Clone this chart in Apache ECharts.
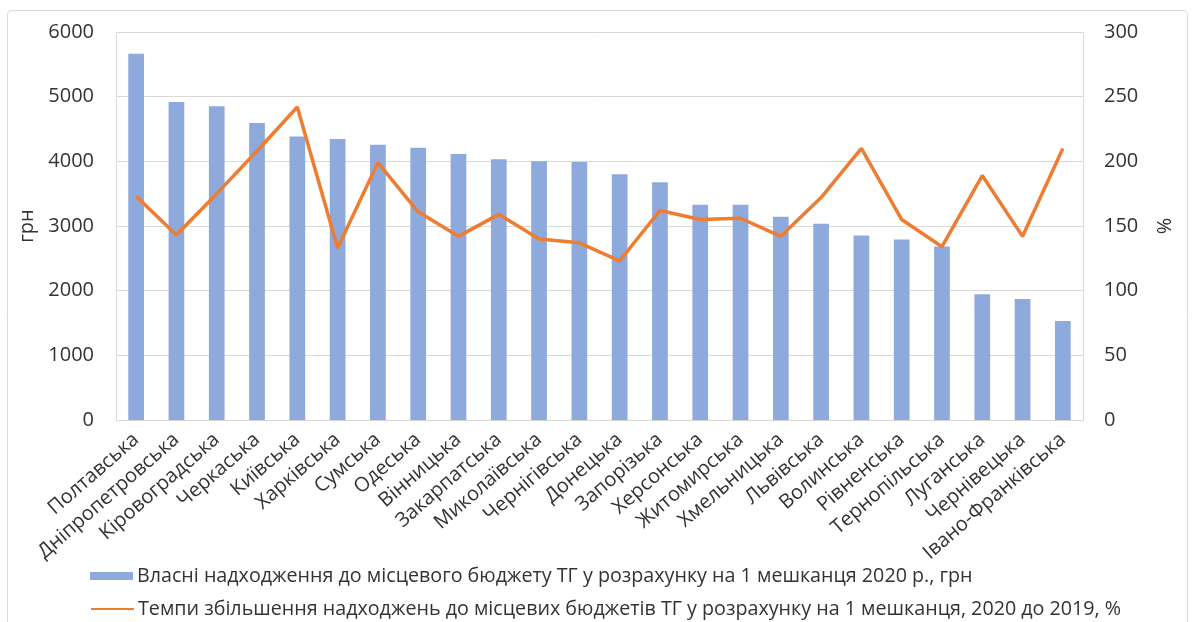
<!DOCTYPE html>
<html><head><meta charset="utf-8">
<script src="https://cdn.jsdelivr.net/npm/echarts@6/dist/echarts.min.js"></script>
<style>html,body{margin:0;padding:0;background:#fff}#c{width:1192px;height:622px}</style>
</head><body><div id="c"></div>
<script>
const categories = ["Полтавська","Дніпропетровська","Кіровоградська","Черкаська","Київська","Харківська","Сумська","Одеська","Вінницька","Закарпатська","Миколаївська","Чернігівська","Донецька","Запорізька","Херсонська","Житомирська","Хмельницька","Львівська","Волинська","Рівненська","Тернопільська","Луганська","Чернівецька","Івано-Франківська"];
const revenuePerCapita = [5665,4917,4850,4592,4385,4344,4256,4210,4112,4034,4003,3988,3802,3678,3328,3328,3142,3034,2853,2791,2683,1945,1873,1532];
const growthRate = [173,143,175,208,242,133,199,161,142,159,140,137,123,162,155,156,142,172,210,155,134,189,142,210];
const leftTicks = {min:0,max:6000,interval:1000};
const rightTicks = {min:0,max:300,interval:50};
const seriesNames = ["Власні надходження до місцевого бюджету ТГ у розрахунку на 1 мешканця 2020 р., грн","Темпи збільшення надходжень до місцевих бюджетів ТГ у розрахунку на 1 мешканця, 2020 до 2019, %"];

const font = "Open Sans";
const txt = '#333333';
const fs = 20;
const chart = echarts.init(document.getElementById('c'));
chart.setOption({
  animation:false,
  textStyle:{fontFamily:font},
  graphic:[{type:'rect',shape:{x:7.5,y:10.5,width:1180,height:630,r:4},style:{fill:'none',stroke:'#d9d9d9',lineWidth:1},silent:true}],
  grid:{left:116,right:109,top:32,bottom:202},
  legend:[
    {left:90,top:566,itemWidth:43,itemHeight:8,padding:0,
     textStyle:{fontFamily:font,fontSize:19.7,color:txt,padding:[0,0,0,-1]},
     data:[{name:seriesNames[0],icon:'rect'}]},
    {left:90,top:599,itemWidth:43,itemHeight:8,padding:0,
     textStyle:{fontFamily:font,fontSize:19.7,color:txt,padding:[0,0,0,-1]},
     data:[{name:seriesNames[1],itemStyle:{opacity:0}}]}
  ],
  xAxis:{type:'category',data:categories,
    axisLine:{lineStyle:{color:'#d9d9d9'}},axisTick:{show:false},
    axisLabel:{rotate:41,interval:0,fontSize:fs,color:txt,margin:17,fontFamily:font}},
  yAxis:[
    {type:'value',min:leftTicks.min,max:leftTicks.max,interval:leftTicks.interval,
     name:'грн',nameLocation:'middle',nameGap:78,nameTextStyle:{fontSize:fs,color:txt},
     axisLine:{show:true,lineStyle:{color:'#d9d9d9'}},
     axisLabel:{fontSize:fs,color:txt,margin:22,formatter:v=>String(v)},
     splitLine:{lineStyle:{color:'#d9d9d9'}}},
    {type:'value',min:rightTicks.min,max:rightTicks.max,interval:rightTicks.interval,position:'right',
     name:'%',nameLocation:'middle',nameGap:70,nameRotate:-90,nameTextStyle:{fontSize:fs,color:txt},
     axisLine:{show:true,lineStyle:{color:'#d9d9d9'}},
     axisLabel:{fontSize:fs,color:txt,margin:21,formatter:v=>String(v)},
     splitLine:{show:false}}
  ],
  series:[
    {name:seriesNames[0],type:'bar',data:revenuePerCapita,barWidth:'39%',itemStyle:{color:'#8eaadc'},yAxisIndex:0},
    {name:seriesNames[1],type:'line',data:growthRate,yAxisIndex:1,symbol:'none',lineStyle:{color:'#ed7d31',width:3.5},itemStyle:{color:'#ed7d31'}}
  ]
});
</script></body></html>
